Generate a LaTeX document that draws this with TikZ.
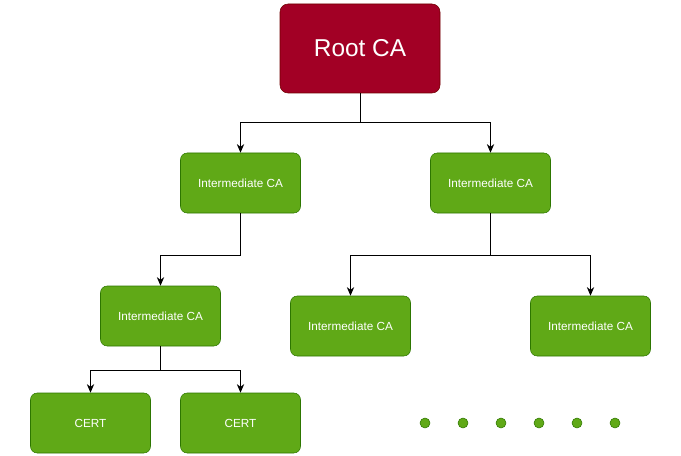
\documentclass[tikz,border=0pt]{standalone}
\usepackage{fontspec}
\setmainfont{Liberation Sans}
\usetikzlibrary{arrows.meta}

\begin{document}
\begin{tikzpicture}[x=0.75pt, y=-0.75pt]
% Styles
\tikzstyle{none} = []
\tikzstyle{rootbox}=[fill={rgb,255: red,162; green,0; blue,37}, draw={rgb,255: red,111; green,0; blue,0}, rounded corners=6pt, minimum width=120pt, minimum height=66.75pt, text=white, font=\fontsize{18.3}{20}\selectfont]
\tikzstyle{cabox}=[fill={rgb,255: red,96; green,169; blue,23}, draw={rgb,255: red,45; green,118; blue,0}, rounded corners=5pt, minimum width=90pt, minimum height=45pt, text=white, font=\fontsize{8.8}{10}\selectfont]
\tikzstyle{dot}=[fill={rgb,255: red,96; green,169; blue,23}, draw={rgb,255: red,45; green,118; blue,0}, shape=circle, minimum size=7.5pt, inner sep=0pt]
\tikzstyle{arrow}=[draw=black, -{Stealth[length=6.5pt, width=5.5pt]}, line width=0.6pt]
\tikzstyle{line}=[draw=black, line width=0.6pt]

\useasboundingbox (0, 0) rectangle (681, 456);

\node [style=rootbox] (0) at (360, 48.5) {Root CA};
\node [style=cabox] (1) at (240.5, 183) {Intermediate CA};
\node [style=cabox] (2) at (490.5, 183) {Intermediate CA};
\node [style=cabox] (3) at (160.5, 316) {Intermediate CA};
\node [style=cabox] (4) at (350.5, 326) {Intermediate CA};
\node [style=cabox] (5) at (590.5, 326) {Intermediate CA};
\node [style=cabox] (6) at (90.5, 423) {CERT};
\node [style=cabox] (7) at (240.5, 423) {CERT};

% dots
\node [style=dot] (8) at (425, 423) {};
\node [style=dot] (9) at (463, 423) {};
\node [style=dot] (10) at (501, 423) {};
\node [style=dot] (11) at (539, 423) {};
\node [style=dot] (12) at (577, 423) {};
\node [style=dot] (13) at (615, 423) {};

% bends
\coordinate (20) at (360, 122);
\coordinate (21) at (240.5, 255);
\coordinate (22) at (490.5, 255);
\coordinate (23) at (160.5, 370);

\draw [style=line] (0) to (20);
\draw [style=arrow] (20) -| (1);
\draw [style=arrow] (20) -| (2);
\draw [style=line] (1) to (21);
\draw [style=arrow] (21) -| (3);
\draw [style=line] (2) to (22);
\draw [style=arrow] (22) -| (4);
\draw [style=arrow] (22) -| (5);
\draw [style=line] (3) to (23);
\draw [style=arrow] (23) -| (6);
\draw [style=arrow] (23) -| (7);
\end{tikzpicture}
\end{document}
